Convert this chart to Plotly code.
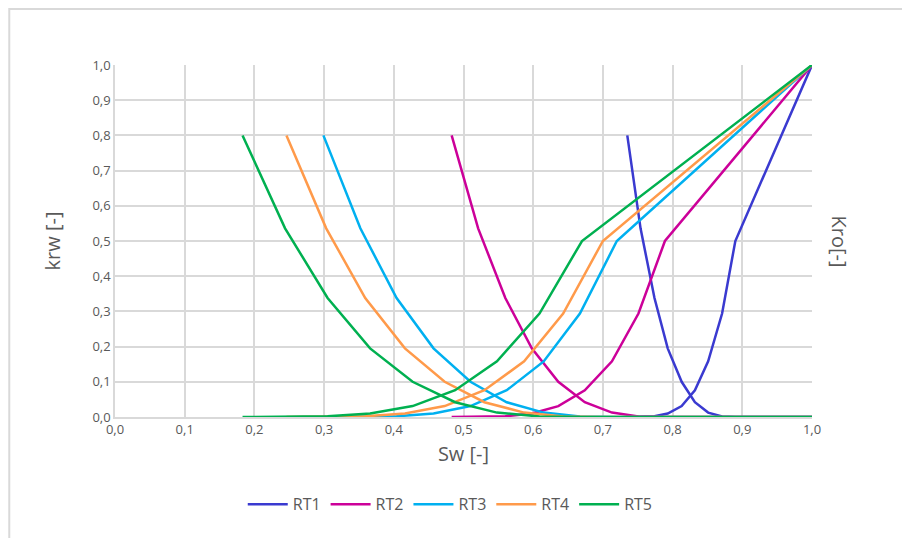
import plotly.graph_objects as go

# Saturation grids (Sw), per rock type
sw_rt1 = [0.735, 0.754, 0.774, 0.793, 0.813, 0.832, 0.851, 0.871, 0.890, 1.0]
sw_rt2 = [0.483, 0.521, 0.560, 0.598, 0.636, 0.674, 0.713, 0.751, 0.789, 1.0]
sw_rt3 = [0.299, 0.352, 0.404, 0.457, 0.510, 0.562, 0.615, 0.667, 0.720, 1.0]
sw_rt4 = [0.246, 0.303, 0.359, 0.416, 0.473, 0.530, 0.587, 0.643, 0.700, 1.0]
sw_rt5 = [0.183, 0.244, 0.305, 0.366, 0.427, 0.488, 0.548, 0.609, 0.670, 1.0]

# Falling curves (start 0.8) and rising curves (end 1.0)
krw_rt1 = [0.8, 0.536, 0.338, 0.195, 0.100, 0.042, 0.0125, 0.0016, 0.0, 0.0]
krw_rt2 = [0.8, 0.536, 0.338, 0.195, 0.100, 0.042, 0.0125, 0.0016, 0.0, 0.0]
krw_rt3 = [0.8, 0.536, 0.338, 0.195, 0.100, 0.042, 0.0125, 0.0016, 0.0, 0.0]
krw_rt4 = [0.8, 0.536, 0.338, 0.195, 0.100, 0.042, 0.0125, 0.0016, 0.0, 0.0]
krw_rt5 = [0.8, 0.536, 0.338, 0.195, 0.100, 0.042, 0.0125, 0.0016, 0.0, 0.0]

kro_rt1 = [0.0, 0.0001, 0.002, 0.0099, 0.031, 0.076, 0.158, 0.294, 0.5, 1.0]
kro_rt2 = [0.0, 0.0001, 0.002, 0.0099, 0.031, 0.076, 0.158, 0.294, 0.5, 1.0]
kro_rt3 = [0.0, 0.0001, 0.002, 0.0099, 0.031, 0.076, 0.158, 0.294, 0.5, 1.0]
kro_rt4 = [0.0, 0.0001, 0.002, 0.0099, 0.031, 0.076, 0.158, 0.294, 0.5, 1.0]
kro_rt5 = [0.0, 0.0001, 0.002, 0.0099, 0.031, 0.076, 0.158, 0.294, 0.5, 1.0]

names = ["RT1", "RT2", "RT3", "RT4", "RT5"]
colors = ["#3a3ad0", "#cc0099", "#00b0f0", "#ff9a4a", "#00b050"]
sws = [sw_rt1, sw_rt2, sw_rt3, sw_rt4, sw_rt5]
krws = [krw_rt1, krw_rt2, krw_rt3, krw_rt4, krw_rt5]
kros = [kro_rt1, kro_rt2, kro_rt3, kro_rt4, kro_rt5]

x_ticks = [0.0, 0.1, 0.2, 0.3, 0.4, 0.5, 0.6, 0.7, 0.8, 0.9, 1.0]
y_ticks = [0.0, 0.1, 0.2, 0.3, 0.4, 0.5, 0.6, 0.7, 0.8, 0.9, 1.0]

FONT = "Open Sans, Noto Sans, sans-serif"
GRAY = "#595959"

fig = go.Figure()
for name, c, sw, kw, ko in zip(names, colors, sws, krws, kros):
    fig.add_trace(go.Scatter(x=sw, y=kw, mode="lines", name=name,
                             line=dict(color=c, width=2.5), legendgroup=name,
                             showlegend=True))
    fig.add_trace(go.Scatter(x=sw, y=ko, mode="lines", name=name,
                             line=dict(color=c, width=2.5), legendgroup=name,
                             showlegend=False))

fig.update_layout(
    width=910, height=538,
    paper_bgcolor="white", plot_bgcolor="white",
    separators=", ",
    margin=dict(l=107, r=106, t=57, b=129),
    font=dict(family=FONT, color=GRAY),
    showlegend=True,
    legend=dict(orientation="h", x=0.481, xanchor="center", y=-0.248, yanchor="middle",
                font=dict(size=16, color=GRAY), itemwidth=40, tracegroupgap=0),
    xaxis=dict(range=[0, 1.0], tickvals=x_ticks, tickformat=".1f",
               showgrid=True, gridcolor="#d9d9d9", gridwidth=1.5,
               showline=True, linecolor="#d9d9d9", linewidth=1.5,
               zeroline=False, ticks="", tickfont=dict(size=13, color=GRAY),
               title=dict(text="Sw [-]", font=dict(size=20, color=GRAY), standoff=10)),
    yaxis=dict(range=[0, 1.0], tickvals=y_ticks, tickformat=".1f",
               showgrid=True, gridcolor="#d9d9d9", gridwidth=1.5,
               showline=True, linecolor="#d9d9d9", linewidth=1.5,
               zeroline=False, ticks="", tickfont=dict(size=13, color=GRAY),
               title=dict(text="krw [-]", font=dict(size=20, color=GRAY), standoff=26)),
)

fig.add_annotation(text="Kro[-]", textangle=90, xref="paper", yref="paper",
                   x=1.0, y=0.5, xshift=43, showarrow=False,
                   font=dict(size=20, color=GRAY, family=FONT))

# chart-area border (top and left edges visible)
fig.add_shape(type="rect", xref="paper", yref="paper",
              x0=-0.1517, x1=1.3, y0=-0.5, y1=1.159,
              line=dict(color="#d9d9d9", width=2), layer="below")

fig.write_html("out.html")
